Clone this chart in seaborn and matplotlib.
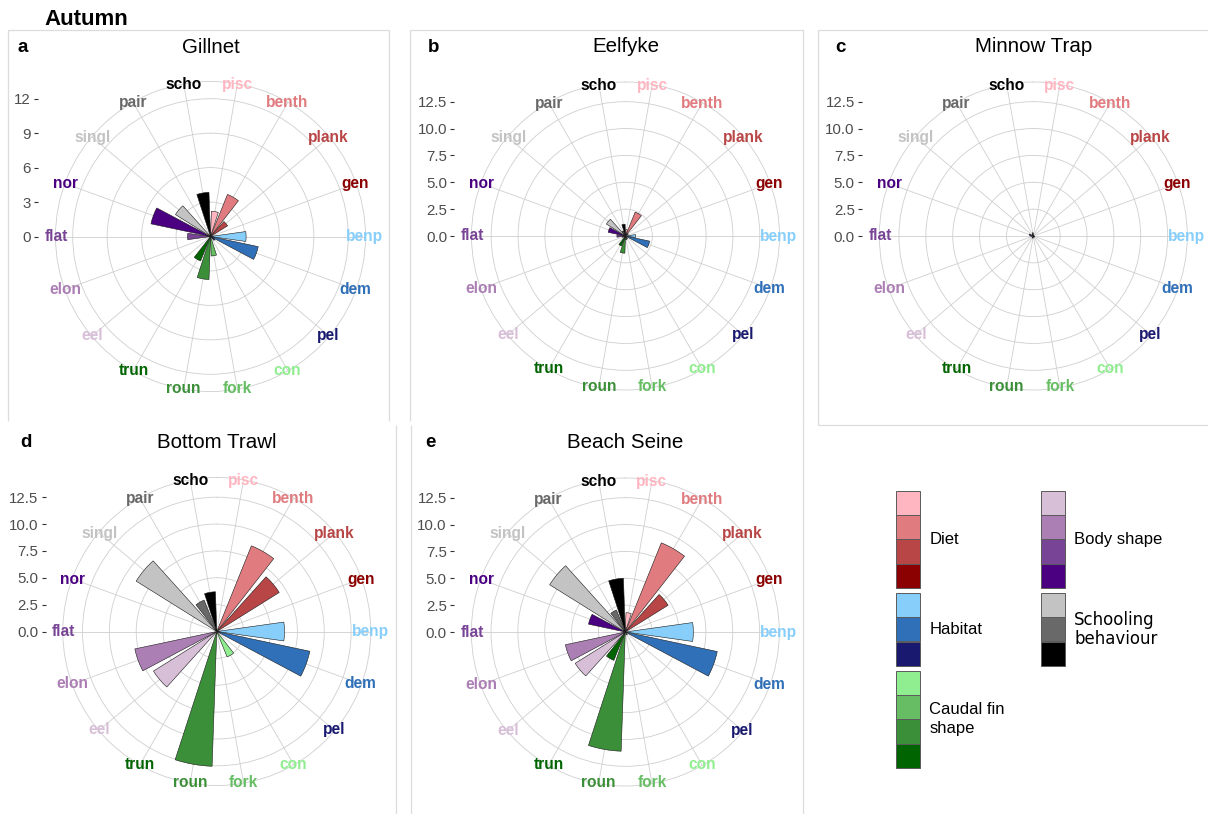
import numpy as np
import pandas as pd
import matplotlib
matplotlib.use("Agg")
import matplotlib.pyplot as plt
from matplotlib.patches import Rectangle
import seaborn as sns

# ---------------------------------------------------------------- data
categories = ["pisc", "benth", "plank", "gen",
              "benp", "dem", "pel",
              "con", "fork", "roun", "trun",
              "eel", "elon", "flat", "nor",
              "singl", "pair", "scho"]

category_colors = ["#FFB6C1", "#E07B7F", "#B94646", "#8B0000",
                   "#87CEFA", "#3070B8", "#191970",
                   "#90EE90", "#66BD63", "#3B8F38", "#006400",
                   "#D8BFD8", "#AC7FB4", "#784495", "#4B0082",
                   "#C3C3C3", "#696969", "#000000"]

#               pisc benth plank gen  benp dem  pel  con  fork roun  trun eel  elon flat nor  singl pair scho
gillnet      = [2.2, 3.95, 1.75, 0.0, 3.1, 4.25, 0.45, 0.0, 1.7, 3.75, 2.3, 0.0, 0.0, 2.0, 5.3, 3.6, 0.0, 3.85]
eelfyke      = [0.6, 2.4, 0.3, 0.0, 0.95, 2.3, 0.0, 0.3, 0.35, 1.6, 1.0, 0.0, 0.3, 0.8, 1.65, 2.1, 0.5, 1.1]
minnow_trap  = [0.0, 0.0, 0.0, 0.0, 0.1, 0.0, 0.15, 0.0, 0.0, 0.2, 0.2, 0.0, 0.0, 0.25, 0.4, 0.0, 0.15, 0.3]
bottom_trawl = [0.0, 8.6, 6.85, 0.0, 6.3, 8.85, 0.0, 2.55, 0.0, 12.55, 0.0, 6.95, 7.8, 0.0, 0.0, 8.85, 3.15, 3.7]
beach_seine  = [1.8, 8.95, 4.7, 0.0, 6.33, 8.75, 0.0, 0.3, 0.0, 11.1, 2.85, 5.5, 5.7, 0.0, 3.5, 8.3, 2.2, 5.0]

gear_names = ["Gillnet", "Eelfyke", "Minnow Trap", "Bottom Trawl", "Beach Seine"]
gear_values = [gillnet, eelfyke, minnow_trap, bottom_trawl, beach_seine]
panel_letters = ["a", "b", "c", "d", "e"]

gillnet_ticks = [0, 3, 6, 9, 12]
shared_ticks = [0.0, 2.5, 5.0, 7.5, 10.0, 12.5]
panel_ticks = [gillnet_ticks, shared_ticks, shared_ticks, shared_ticks, shared_ticks]
tick_formats = ["{:.0f}", "{:.1f}", "{:.1f}", "{:.1f}", "{:.1f}"]
radial_limits = [12.0, 12.74, 12.74, 12.74, 12.74]

trait_groups = ["Diet", "Habitat", "Caudal fin\nshape", "Body shape", "Schooling\nbehaviour"]
trait_sizes = [4, 3, 4, 4, 3]

season = "Autumn"

# ---------------------------------------------------------------- style
sns.set_theme(style="white")
plt.rcParams["font.family"] = ["Liberation Sans", "DejaVu Sans"]

W, H = 1208, 814
fig = plt.figure(figsize=(W / 100, H / 100), dpi=100)
fig.patch.set_facecolor("white")

GRID = "#CFCFCF"
FRAME = "#DCDCDC"
palette = dict(zip(categories, category_colors))
n_cat = len(categories)
angles = np.arange(n_cat) * 2 * np.pi / n_cat + np.pi / n_cat  # category centres


def px_box(cx, cy, half):
    return [(cx - half) / W, 1 - (cy + half) / H, 2 * half / W, 2 * half / H]


# panel centres / radii in pixels
centers = [(210.5, 236.5), (625.5, 236.0), (1033.3, 236.0), (216.8, 631.5), (625.3, 632.0)]
radii_px = [155.0, 154.0, 154.0, 154.0, 154.0]

# overlay in pixel coordinates for frames, titles and the legend
over = fig.add_axes([0, 0, 1, 1])
over.set_xlim(0, W)
over.set_ylim(H, 0)
over.axis("off")
over.patch.set_visible(False)

# visible frame edges of each sub-plot
frame_lines = [
    ([8, 8, 389, 389], [421, 30, 30, 421]),          # a
    ([410, 410, 803, 803], [421, 30, 30, 421]),      # b
    ([818, 818, 1208], [425, 30, 30]),               # c (left/top)
    ([818, 1208], [425, 425]),                       # c (bottom)
    ([396, 396], [425, 814]),                        # d
    ([410.5, 410.5], [425, 814]),                    # e left
    ([803, 803], [421, 814]),                        # e right
]
for xs, ys in frame_lines:
    over.plot(xs, ys, color=FRAME, linewidth=0.9, solid_capstyle="butt")

for k, (name, values) in enumerate(zip(gear_names, gear_values)):
    cx, cy = centers[k]
    rpx = radii_px[k]
    outer = radial_limits[k] * 1.125

    ax = fig.add_axes(px_box(cx, cy, rpx), projection="polar")
    df = pd.DataFrame({"angle": angles, "value": values, "category": categories})
    sns.barplot(data=df, x="angle", y="value", hue="category", hue_order=categories,
                palette=palette, native_scale=True, width=0.8, saturation=1,
                edgecolor="#1a1a1a", linewidth=0.4, errorbar=None, legend=False, ax=ax)
    ax.set_theta_zero_location("N")
    ax.set_theta_direction(-1)
    ax.set_xlim(0, 2 * np.pi)
    ax.set_ylim(0, outer)
    ax.set_xticks(angles)
    ax.set_xticklabels([])
    ax.set_yticks(panel_ticks[k])
    ax.set_yticklabels([])
    ax.set_xlabel("")
    ax.set_ylabel("")
    ax.grid(True, color=GRID, linewidth=0.6)
    ax.spines["polar"].set_color(GRID)
    ax.spines["polar"].set_linewidth(0.6)
    ax.tick_params(axis="both", length=0, pad=0)
    for child in ax.patches:
        child.set_zorder(3)

    for ang, lab, col in zip(angles, categories, category_colors):
        ax.text(ang, outer * 0.995, lab, ha="center", va="center", color=col,
                fontsize=11.2, fontweight="bold", clip_on=False, zorder=4)

    # radial axis on the left edge of the panel square
    rax = fig.add_axes(px_box(cx, cy, rpx / 0.9))
    rax.set_xlim(-1, 1)
    rax.set_ylim(-outer / 0.9, outer / 0.9)
    rax.set_xticks([])
    rax.set_yticks(panel_ticks[k])
    rax.set_yticklabels([tick_formats[k].format(t) for t in panel_ticks[k]])
    for s in rax.spines.values():
        s.set_visible(False)
    rax.patch.set_visible(False)
    rax.tick_params(axis="y", left=True, length=2.9, width=0.8, color="#333333",
                    labelcolor="#4D4D4D", labelsize=10.8, pad=2.4)

    over.text(cx, cy - 183.5, name, ha="center", va="baseline", fontsize=14.8, color="black")

letter_pos = [(17, 51.7), (428, 51.7), (835, 51.7), (20, 446.7), (425, 446.7)]
for (lx, ly), letter in zip(letter_pos, panel_letters):
    over.text(lx, ly, letter, ha="left", va="baseline", fontsize=13.5,
              fontweight="bold", color="black")

over.text(44, 25, season, ha="left", va="baseline", fontsize=16,
          fontweight="bold", color="black")

# ---------------------------------------------------------------- legend
sw = 24.3
gap = 5.0
col_x = [895.5, 1040.5]
col_of_group = [0, 0, 0, 1, 1]
col_y = [490.7, 490.7]
start = 0
for g, (label, size) in enumerate(zip(trait_groups, trait_sizes)):
    c = col_of_group[g]
    x0 = col_x[c]
    y0 = col_y[c]
    for j in range(size):
        over.add_patch(Rectangle((x0, y0 + j * sw), sw, sw,
                                 facecolor=category_colors[start + j],
                                 edgecolor="#5a5a5a", linewidth=0.7))
    if label.startswith("Schooling"):
        family, spacing = ["DejaVu Sans"], 1.12
    else:
        family, spacing = ["Liberation Sans", "DejaVu Sans"], 1.35
    over.text(x0 + sw + 9.5, y0 + size * sw / 2, label, ha="left", va="center",
              fontsize=12, color="black", family=family, linespacing=spacing)
    col_y[c] = y0 + size * sw + gap
    start += size

fig.savefig("out.png", dpi=100, facecolor="white")
